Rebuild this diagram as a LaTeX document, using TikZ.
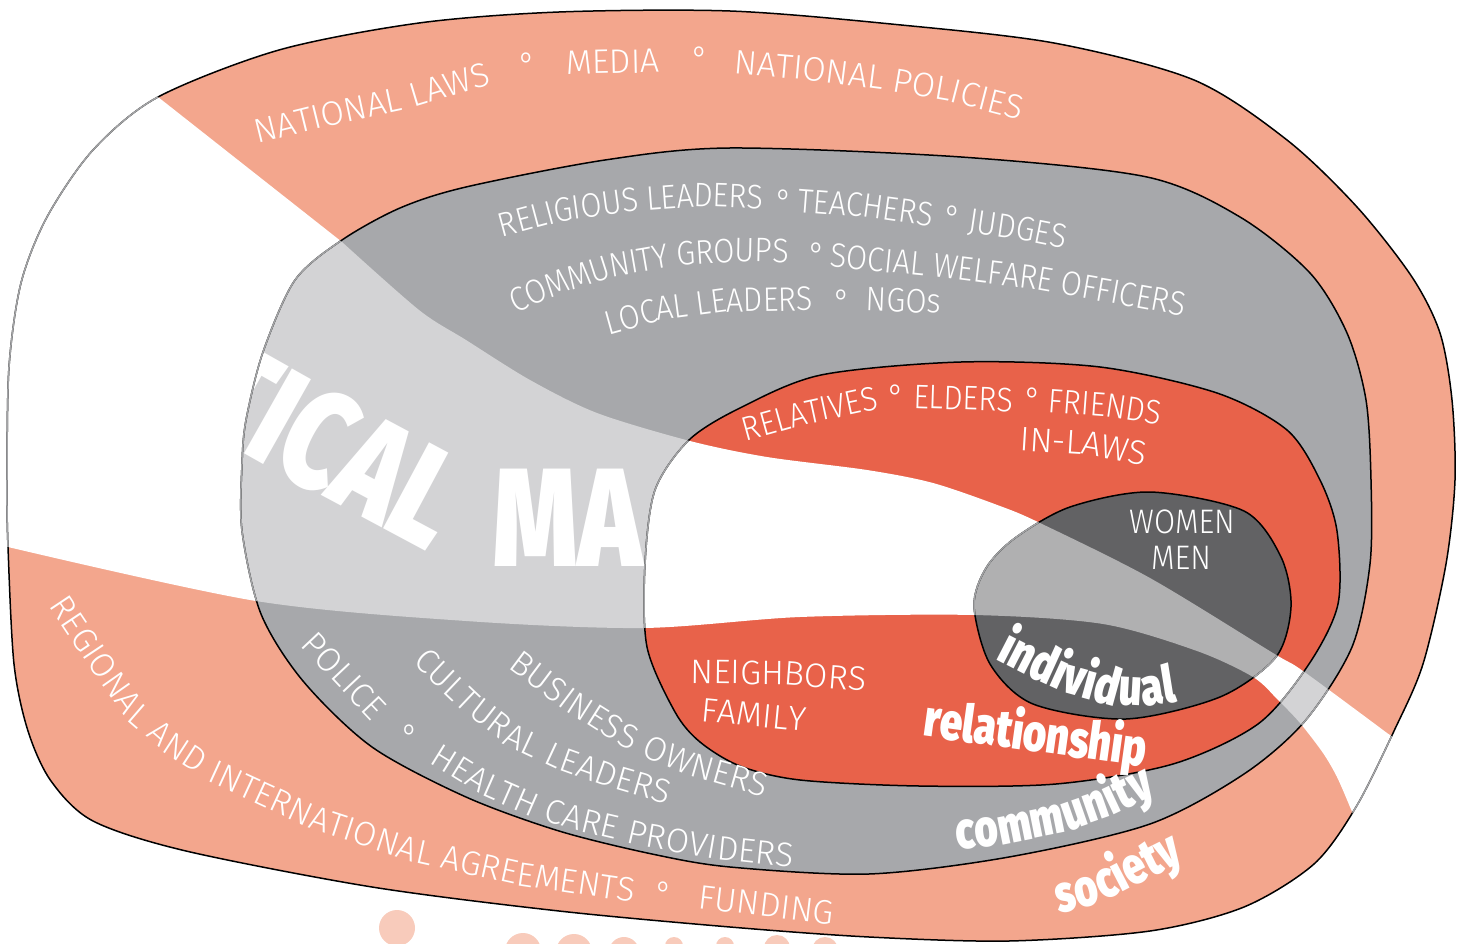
\documentclass[tikz,border=0pt]{standalone}
\usepackage{fontspec}
\usepackage{xcolor}
\usetikzlibrary{decorations.text}
\newfontfamily\labelface[FakeStretch=0.9]{Fira Sans Light}
\newfontfamily\wideface{Fira Sans Light}
\newfontfamily\heavyface[FakeStretch=0.77]{Fira Sans Black}
\newfontfamily\hugeface[FakeStretch=0.76]{Fira Sans Black}
\newcommand\lblfont{\labelface\fontsize{34}{40}\selectfont\color{white}}
\newcommand\widefont{\wideface\fontsize{34}{40}\selectfont\color{white}}
\newcommand\wordfont{\heavyface\fontsize{52}{60}\selectfont\color{white}}
\newcommand\hugefont{\hugeface\fontsize{140}{150}\selectfont\color{white}}
\definecolor{societyfill}{HTML}{F3A68D}
\definecolor{communityfill}{HTML}{A7A8AB}
\definecolor{relationfill}{HTML}{E8624A}
\definecolor{individualfill}{HTML}{626264}
\definecolor{ghostline}{HTML}{A3A4A6}
\definecolor{dotfill}{HTML}{F8CBBB}
% the four rings and the white band
\newcommand\societyshape{plot[smooth cycle] coordinates {(158,97) (279,50) (419,23) (559,12) (730,11) (891,24) (1054,43) (1194,80) (1287,140) (1357,207) (1412,277) (1440,333) (1452,400) (1455,480) (1446,564) (1423,664) (1394,731) (1356,807) (1314,864) (1244,907) (1150,931) (1009,941) (869,937) (730,927) (559,911) (372,887) (186,851) (93,821) (51,781) (28,731) (14,664) (8,547) (7,480) (9,367) (21,283) (47,217) (93,150)}}
\newcommand\communityshape{plot[smooth cycle] coordinates {(342,240) (400,208) (466,187) (605,160) (730,148) (961,157) (1147,177) (1240,217) (1310,273) (1347,333) (1366,400) (1371,480) (1370,564) (1352,647) (1305,721) (1244,774) (1150,824) (1009,857) (869,874) (730,867) (652,854) (559,831) (466,797) (372,747) (303,681) (261,614) (242,531) (242,464) (246,420) (263,352) (295,280)}}
\newcommand\relationshape{plot[smooth cycle] coordinates {(689,440) (740,408) (821,375) (961,362) (1100,367) (1217,393) (1287,430) (1320,480) (1337,531) (1338,604) (1309,664) (1258,724) (1173,764) (1056,784) (919,786) (800,780) (740,766) (700,742) (675,712) (647,647) (645,564) (655,490)}}
\newcommand\individualshape{plot[smooth cycle] coordinates {(1150,492) (1244,511) (1281,557) (1291,607) (1276,657) (1220,697) (1126,719) (1033,704) (990,664) (974,606) (986,568) (1015,538) (1070,507)}}
\newcommand\bandshape{(60,-30) -- (158,97) -- (342,242) -- plot[smooth] coordinates {(342,242) (419,310) (466,340) (530,380) (597,413) (690,441) (767,457) (867,470) (933,483) (1000,506) (1040,523) (1150,578) (1273,653) (1303,671) (1387,733)} -- (1500,810) -- (1390,900) -- (1350,807) -- plot[smooth] coordinates {(1350,807) (1337,777) (1323,753) (1300,723) (1278,700) (1253,677) (1197,651) (1103,624) (974,615) (800,617) (643,628) (466,621) (256,601) (8,547)} -- (-40,535) -- (-40,-30) -- cycle}

\begin{document}
\begin{tikzpicture}[x=1pt, y=-1pt,
	rim/.style={draw=black, line width=1.5pt},
	ghost/.style={draw=ghostline, line width=1.5pt},
	lbl/.style={decorate, decoration={text along path, text align=center, raise=-11.5pt, text={|\lblfont|#1}}},
	wlbl/.style={decorate, decoration={text along path, text align=center, raise=-11.5pt, text={|\widefont|#1}}},
	word/.style={decorate, decoration={text along path, text align=center, raise=-13.5pt, text={|\wordfont|#1}}},
	bigcaps/.style={decorate, decoration={text along path, text align=center, raise=-48pt, text={|\hugefont|#1}}},
	tag/.style={font=\lblfont, inner sep=0},
	bullet/.style={font=\lblfont, anchor=base, inner sep=0}
]
\useasboundingbox (0,0) rectangle (1457,944);
% dots below
\fill[dotfill] (397,928) circle[radius=18pt];
\foreach \x/\y/\r in {523/951/18, 574/952/18, 624/952/15, 674/946/9, 725/946/9, 777/948/13, 825/950/13}
	\fill[dotfill] (\x,\y) circle[radius=\r pt];
% fills, band on top
\fill[societyfill] \societyshape;
\fill[white] \bandshape;
\fill[communityfill] \communityshape;
\begin{scope}
	\clip \communityshape;
	\fill[white, opacity=0.5] \bandshape;
	\path[bigcaps={TICAL}] plot coordinates {(187,366) (222,386) (300,430) (442,506) (477,525)};
	\node[font=\hugefont, inner sep=0] (ma) at (568,518) {MA};
\end{scope}
\fill[relationfill] \relationshape;
\begin{scope}
	\clip \relationshape;
	\fill[white] \bandshape;
\end{scope}
\fill[individualfill] \individualshape;
\begin{scope}
	\clip \individualshape;
	\fill[white, opacity=0.5] \bandshape;
\end{scope}
\draw[rim] \societyshape;
\draw[rim] \communityshape;
\draw[rim] \relationshape;
\draw[rim] \individualshape;
\begin{scope}
	\clip \bandshape;
	\draw[ghost] \societyshape;
	\draw[ghost] \communityshape;
	\draw[ghost] \relationshape;
	\draw[ghost] \individualshape;
\end{scope}
% society
\path[wlbl={NATIONAL LAWS}] plot coordinates {(217,142) (257,132) (330,114) (405,98) (488,73) (526,62)};
\node[bullet] (b1) at (527,77) {°};
\path[wlbl={MEDIA}] plot coordinates {(526,64) (566,63) (660,61) (700,60)};
\node[bullet] (b2) at (700,71) {°};
\path[wlbl={NATIONAL POLICIES}] plot coordinates {(702,59) (742,63) (810,69) (880,78) (950,90) (1016,107) (1055,117)};
\path[wlbl={REGIONAL AND INTERNATIONAL AGREEMENTS}] plot coordinates {(40,572) (62,605) (100,662) (135,712) (172,744) (215,772) (315,818) (416,851) (520,874) (628,890) (668,896)};
\node[bullet] (b3) at (664,905) {°};
\path[wlbl={FUNDING}] plot coordinates {(660,892) (700,897) (833,913) (873,918)};
\path[word={society}] plot coordinates {(1018,909) (1057,900) (1090,892) (1115,881) (1140,868) (1178,849) (1214,831)};
% community
\path[lbl={RELIGIOUS LEADERS}] plot coordinates {(465,235) (504,225) (560,210) (633,200) (700,195) (758,197) (798,198)};
\node[bullet] (b4) at (784,214) {°};
\path[lbl={TEACHERS}] plot coordinates {(760,198) (800,201) (866,206) (931,215) (971,221)};
\node[bullet] (b5) at (953,230) {°};
\path[lbl={JUDGES}] plot coordinates {(925,214) (965,220) (1020,228) (1070,238) (1110,246)};
\path[lbl={COMMUNITY GROUPS}] plot coordinates {(476,318) (513,302) (560,282) (610,266) (680,254) (740,250) (787,251) (827,252)};
\node[bullet] (b6) at (817,267) {°};
\path[lbl={SOCIAL WELFARE OFFICERS}] plot coordinates {(796,252) (836,256) (940,266) (1030,277) (1110,291) (1181,304) (1220,311)};
\path[lbl={LOCAL LEADERS}] plot coordinates {(568,335) (606,324) (660,309) (720,301) (812,299) (852,298)};
\node[bullet] (b7) at (842,313) {°};
\path[lbl={NGOs}] plot coordinates {(826,298) (866,299) (941,302) (981,303)};
\path[wlbl={POLICE}] plot coordinates {(284,612) (311,641) (344,676) (377,711) (404,740)};
\node[bullet] (b8) at (410,748) {°};
\path[wlbl={HEALTH CARE PROVIDERS}] plot coordinates {(406,735) (440,756) (485,784) (535,806) (590,822) (650,836) (720,848) (788,855) (828,859)};
\path[wlbl={CULTURAL LEADERS}] plot coordinates {(401,636) (430,664) (470,702) (515,737) (560,758) (610,776) (658,790) (696,801)};
\path[wlbl={BUSINESS OWNERS}] plot coordinates {(486,637) (518,661) (570,700) (628,737) (690,764) (764,785) (802,796)};
\path[word={community}] plot coordinates {(914,840) (954,836) (1010,830) (1060,820) (1100,806) (1153,781) (1189,764)};
% relationship
\path[lbl={RELATIVES}] plot coordinates {(706,441) (745,430) (810,412) (875,398) (914,390)};
\node[bullet] (b9) at (896,408) {°};
\path[lbl={ELDERS}] plot coordinates {(876,396) (916,397) (1011,400) (1051,401)};
\node[bullet] (b10) at (1033,411) {°};
\path[lbl={FRIENDS}] plot coordinates {(1011,398) (1051,401) (1105,405) (1159,413) (1199,419)};
\path[wlbl={IN-LAWS}] plot coordinates {(980,437) (1020,439) (1085,443) (1146,454) (1186,461)};
\path[wlbl={NEIGHBORS}] plot coordinates {(648,672) (688,672) (780,673) (869,680) (909,683)};
\path[wlbl={FAMILY}] plot coordinates {(662,706) (702,710) (806,720) (846,724)};
\path[word={relationship}] plot coordinates {(880,717) (920,722) (1035,738) (1150,754) (1190,759)};
% individual
\node[tag] (women) at (1182,522) {WOMEN};
\node[tag] (men) at (1181,558) {MEN};
\path[word={individual}] plot coordinates {(966,629) (1002,647) (1035,664) (1070,680) (1110,691) (1145,693) (1176,688) (1215,682)};
\end{tikzpicture}
\end{document}
